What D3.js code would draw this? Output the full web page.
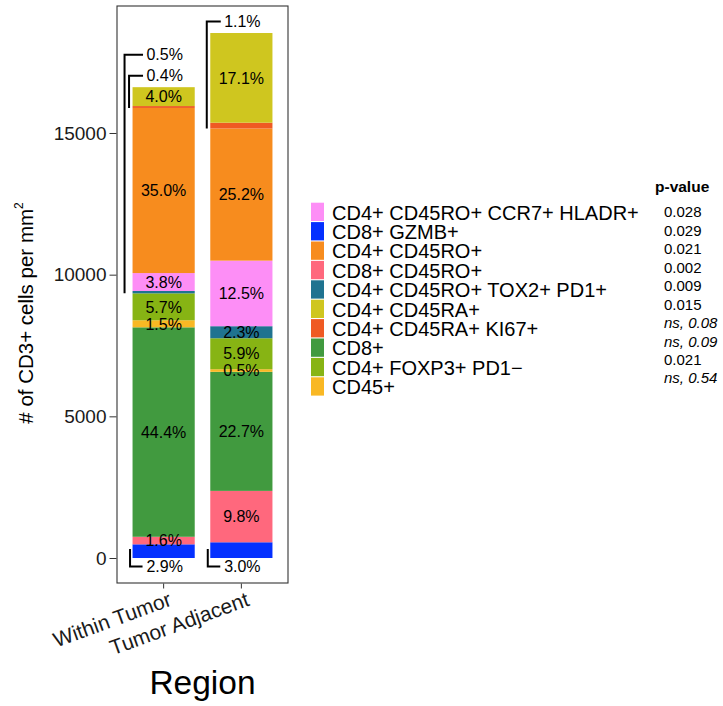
<!DOCTYPE html>
<html>
<head>
<meta charset="utf-8">
<script src="https://cdn.jsdelivr.net/npm/d3@7"></script>
<style>
  body { margin: 0; background: #fff; }
  svg text { font-family: "Liberation Sans", Arial, Helvetica, sans-serif; }
</style>
</head>
<body>
<div id="chart"></div>
<script>
// regions on the x axis
var regions = ["Within Tumor", "Tumor Adjacent"];
// total CD3+ cells per mm2 for each region
var totals = [16650, 18510];

// cell types in stacking order (bottom -> top)
var cellTypes = [
  "CD8+ GZMB+",
  "CD8+ CD45RO+",
  "CD8+",
  "CD45+",
  "CD4+ FOXP3+ PD1\u2212",
  "CD4+ CD45RO+ TOX2+ PD1+",
  "CD4+ CD45RO+ CCR7+ HLADR+",
  "CD4+ CD45RO+",
  "CD4+ CD45RA+ KI67+",
  "CD4+ CD45RA+"
];
var pctWithin   = [2.9, 1.6, 44.4, 1.5, 5.7, 0.5, 3.8, 35.0, 0.4, 4.0];
var pctAdjacent = [3.0, 9.8, 22.7, 0.5, 5.9, 2.3, 12.5, 25.2, 1.1, 17.1];
var typeColors = ["#0430ff", "#ff687d", "#419a3f", "#f9b824", "#87b414",
                  "#1f7390", "#fd8ef6", "#f78c1e", "#ef5a23", "#cfc61f"];

// legend order (top -> bottom) and p-values
var legendOrder = [
  "CD4+ CD45RO+ CCR7+ HLADR+",
  "CD8+ GZMB+",
  "CD4+ CD45RO+",
  "CD8+ CD45RO+",
  "CD4+ CD45RO+ TOX2+ PD1+",
  "CD4+ CD45RA+",
  "CD4+ CD45RA+ KI67+",
  "CD8+",
  "CD4+ FOXP3+ PD1\u2212",
  "CD45+"
];
var pValues = ["0.028", "0.029", "0.021", "0.002", "0.009", "0.015",
               "ns, 0.08", "ns, 0.09", "0.021", "ns, 0.54"];

// labels drawn outside the bar with a bracket
var outsideLabels = [
  { region: 0, type: "CD8+ GZMB+", side: "bottom" },
  { region: 0, type: "CD4+ CD45RA+ KI67+", side: "top", level: 0 },
  { region: 0, type: "CD4+ CD45RO+ TOX2+ PD1+", side: "top", level: 1 },
  { region: 1, type: "CD8+ GZMB+", side: "bottom" },
  { region: 1, type: "CD4+ CD45RA+ KI67+", side: "top", level: 0 }
];

var width = 723, height = 706;
var pctByRegion = [pctWithin, pctAdjacent];

var rows = regions.map(function(r, i) {
  var row = { region: r };
  cellTypes.forEach(function(t, j) {
    row[t] = pctByRegion[i][j] / 100 * totals[i];
  });
  return row;
});

var series = d3.stack().keys(cellTypes)(rows);

var color = d3.scaleOrdinal().domain(cellTypes).range(typeColors);

var x = d3.scaleBand().domain(regions).range([117, 288])
    .paddingInner(0.2).paddingOuter(0.2);
var y = d3.scaleLinear().domain([-882, 19482]).range([583, 6]);

var svg = d3.select("#chart").append("svg")
    .attr("width", width).attr("height", height);

// bars
var layer = svg.append("g").selectAll("g").data(series).enter().append("g")
    .attr("fill", function(d) { return color(d.key); });

layer.selectAll("rect").data(function(d) { return d; }).enter().append("rect")
    .attr("x", function(d) { return x(d.data.region); })
    .attr("width", x.bandwidth())
    .attr("y", function(d) { return y(d[1]); })
    .attr("height", function(d) { return y(d[0]) - y(d[1]); });

var isOutside = function(ri, type) {
  return outsideLabels.some(function(o) { return o.region === ri && o.type === type; });
};

// inside labels
var labelG = svg.append("g").attr("font-size", 16).attr("text-anchor", "middle");
series.forEach(function(s, j) {
  s.forEach(function(d, ri) {
    if (isOutside(ri, s.key)) return;
    labelG.append("text")
      .attr("x", x(d.data.region) + x.bandwidth() / 2)
      .attr("y", y((d[0] + d[1]) / 2))
      .attr("dy", "0.36em")
      .text(pctByRegion[ri][j].toFixed(1) + "%");
  });
});

// outside labels with brackets
var bracketG = svg.append("g").attr("fill", "none").attr("stroke", "#000").attr("stroke-width", 2);
outsideLabels.forEach(function(o) {
  var j = cellTypes.indexOf(o.type);
  var seg = series[j][o.region];
  var left = x(regions[o.region]);
  var cx = left + x.bandwidth() / 2;
  var top = y(series[series.length - 1][o.region][1]);
  var ly, vx, y0, y1;
  if (o.side === "bottom") {
    vx = left - 2.5;
    ly = y(0) + 8.5;
    y0 = y(0) - 9;
    y1 = ly;
  } else {
    ly = top - 11.5 - o.level * 21;
    vx = left - 3.5 - o.level * 4.5;
    y0 = ly;
    y1 = y(seg[0]);
  }
  bracketG.append("path")
    .attr("d", o.side === "bottom"
      ? "M" + vx + "," + y0 + "V" + y1 + "H" + (left + 10)
      : "M" + (left + 10.5) + "," + ly + "H" + vx + "V" + y1);
  labelG.append("text")
    .attr("x", cx + 1)
    .attr("y", ly)
    .attr("dy", "0.36em")
    .text(pctByRegion[o.region][j].toFixed(1) + "%");
});

// panel border
svg.append("rect")
    .attr("x", 117).attr("y", 6).attr("width", 171).attr("height", 577)
    .attr("fill", "none").attr("stroke", "#333").attr("stroke-width", 1.1);

// y axis
var yAxis = svg.append("g").attr("transform", "translate(116.5,0)")
    .call(d3.axisLeft(y).tickValues([0, 5000, 10000, 15000])
      .tickFormat(d3.format("d")).tickSize(7).tickPadding(3));
yAxis.select(".domain").remove();
yAxis.selectAll(".tick line").attr("stroke", "#333");
yAxis.selectAll(".tick text").attr("font-size", 19).attr("fill", "#1a1a1a")
    .attr("font-family", "Liberation Sans, Arial, sans-serif");

// x axis
var xAxis = svg.append("g").attr("transform", "translate(0,583.5)")
    .call(d3.axisBottom(x).tickSize(5).tickFormat(""));
xAxis.select(".domain").remove();
xAxis.selectAll(".tick line").attr("stroke", "#333");

svg.append("g").selectAll("text").data(regions).enter().append("text")
    .attr("transform", function(d) {
      return "translate(" + (x(d) + x.bandwidth() / 2 + 4) + ",591) rotate(-20)";
    })
    .attr("text-anchor", "end")
    .attr("dy", "0.72em")
    .attr("font-size", 21)
    .attr("fill", "#1a1a1a")
    .text(function(d) { return d; });

// axis titles
svg.append("text")
    .attr("x", 202.5).attr("y", 694)
    .attr("text-anchor", "middle")
    .attr("font-size", 33.5)
    .text("Region");

var yTitle = svg.append("text")
    .attr("transform", "translate(33,313) rotate(-90)")
    .attr("text-anchor", "middle")
    .attr("font-size", 20.5);
yTitle.append("tspan").text("# of CD3+ cells per mm");
yTitle.append("tspan").attr("font-size", 12).attr("dy", "-0.8em").text("2");

// legend
var legend = svg.append("g");
var rowH = 19.4;
legendOrder.forEach(function(t, i) {
  var ty = 202.7 + i * rowH;
  legend.append("rect")
    .attr("x", 311).attr("y", ty)
    .attr("width", 13).attr("height", 18.3)
    .attr("fill", color(t));
  legend.append("text")
    .attr("x", 332).attr("y", ty + 9.6)
    .attr("dy", "0.36em")
    .attr("font-size", 20)
    .text(t);
});

// p-values
svg.append("text")
    .attr("x", 655).attr("y", 186)
    .attr("dy", "0.36em")
    .attr("font-size", 15.5)
    .attr("font-weight", "bold")
    .text("p-value");

var pScale = d3.scaleLinear().domain([0, pValues.length - 1]).range([212, 378]);
svg.append("g").selectAll("text").data(pValues).enter().append("text")
    .attr("x", 664)
    .attr("y", function(d, i) { return pScale(i); })
    .attr("dy", "0.36em")
    .attr("font-size", 15)
    .attr("font-style", function(d) { return d.indexOf("ns") === 0 ? "italic" : "normal"; })
    .text(function(d) { return d; });
</script>
</body>
</html>
